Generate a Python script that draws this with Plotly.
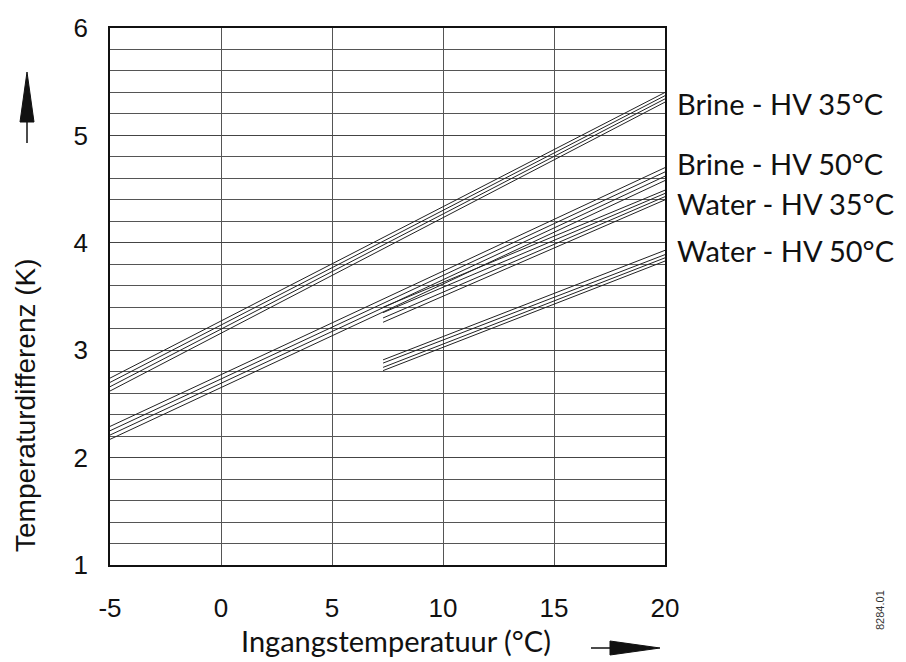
import plotly.graph_objects as go

# Data: each group is 4 parallel lines (start x, end x, start y values, end y values)
series_names = ["Brine - HV 35°C", "Brine - HV 50°C", "Water - HV 35°C", "Water - HV 50°C"]
x_start = [-5, -5, 7.3, 7.3]
x_end = [20, 20, 20, 20]
y_start = [
    [2.62, 2.66, 2.70, 2.74],
    [2.17, 2.21, 2.25, 2.29],
    [3.26, 3.30, 3.35, 3.40],
    [2.81, 2.84, 2.88, 2.91],
]
y_end = [
    [5.31, 5.34, 5.37, 5.40],
    [4.58, 4.62, 4.66, 4.70],
    [4.40, 4.43, 4.46, 4.49],
    [3.83, 3.86, 3.89, 3.93],
]
label_y = [5.30, 4.74, 4.37, 3.93]
x_ticks = [-5, 0, 5, 10, 15, 20]
x_ticktext = ["-5", "0", "5", "10", "15", "20"]
y_ticks = [1, 2, 3, 4, 5, 6]

fig = go.Figure()
for i, name in enumerate(series_names):
    for a, b in zip(y_start[i], y_end[i]):
        fig.add_trace(go.Scatter(
            x=[x_start[i], x_end[i]], y=[a, b], mode="lines",
            line=dict(color="#222222", width=1), showlegend=False, hoverinfo="skip"))

L, R, T, B = 110, 241, 28, 97
W, H = 906, 662
pw, ph = W - L - R, H - T - B

def px(x):
    return (x - L) / pw

def py(y):
    return (H - B - y) / ph

fig.update_layout(
    width=W, height=H,
    margin=dict(l=L, r=R, t=T, b=B),
    paper_bgcolor="white", plot_bgcolor="white",
    showlegend=False,
    font=dict(family="Liberation Sans, Arial", color="#111111"),
    xaxis=dict(range=[-5, 20], tickvals=x_ticks, ticktext=x_ticktext, ticks="", showgrid=True,
               gridcolor="#555555", gridwidth=1, zeroline=False,
               showline=True, linecolor="#111111", linewidth=1.5, mirror=True,
               tickfont=dict(size=26, family="Liberation Sans, Arial"), ticklabelstandoff=19),
    yaxis=dict(range=[1, 6], tickvals=y_ticks, ticks="", showgrid=True,
               gridcolor="#444444", gridwidth=1, zeroline=False,
               showline=True, linecolor="#111111", linewidth=1.5, mirror=True,
               minor=dict(dtick=0.2, showgrid=True, gridcolor="#555555", gridwidth=1),
               tickfont=dict(size=26, family="Liberation Sans, Arial"), ticklabelstandoff=15),
)

for name, yv in zip(series_names, label_y):
    fig.add_annotation(x=px(675), xref="paper", y=yv, yref="y", text=name,
                       showarrow=False, xanchor="left", yanchor="middle",
                       font=dict(size=29, family="Lato", color="#111111"))

fig.add_annotation(x=px(396), xref="paper", y=py(640), yref="paper",
                   text="Ingangstemperatuur (°C)", showarrow=False,
                   xanchor="center", yanchor="middle",
                   font=dict(size=29, family="Lato", color="#111111"))
fig.add_annotation(x=px(25), xref="paper", y=py(405), yref="paper",
                   text="Temperaturdifferenz (K)", showarrow=False, textangle=-90,
                   xanchor="center", yanchor="middle",
                   font=dict(size=28, family="Liberation Sans, Arial", color="#111111"))
fig.add_annotation(x=px(880), xref="paper", y=py(610), yref="paper",
                   text="8284.01", showarrow=False, textangle=-90,
                   xanchor="center", yanchor="middle",
                   font=dict(size=11, family="Liberation Sans, Arial", color="#333333"))

# arrows
fig.add_shape(type="line", xref="paper", yref="paper",
              x0=px(27), y0=py(143), x1=px(27), y1=py(120),
              line=dict(color="#111111", width=1.5))
fig.add_shape(type="path", xref="paper", yref="paper",
              path=f"M {px(27)} {py(72)} L {px(20)} {py(122)} L {px(34)} {py(122)} Z",
              fillcolor="#111111", line=dict(color="#111111", width=1))
fig.add_shape(type="line", xref="paper", yref="paper",
              x0=px(591), y0=py(648), x1=px(612), y1=py(648),
              line=dict(color="#111111", width=1.5))
fig.add_shape(type="path", xref="paper", yref="paper",
              path=f"M {px(660)} {py(648)} L {px(610)} {py(641)} L {px(610)} {py(655)} Z",
              fillcolor="#111111", line=dict(color="#111111", width=1))

fig.write_html("out.html")
